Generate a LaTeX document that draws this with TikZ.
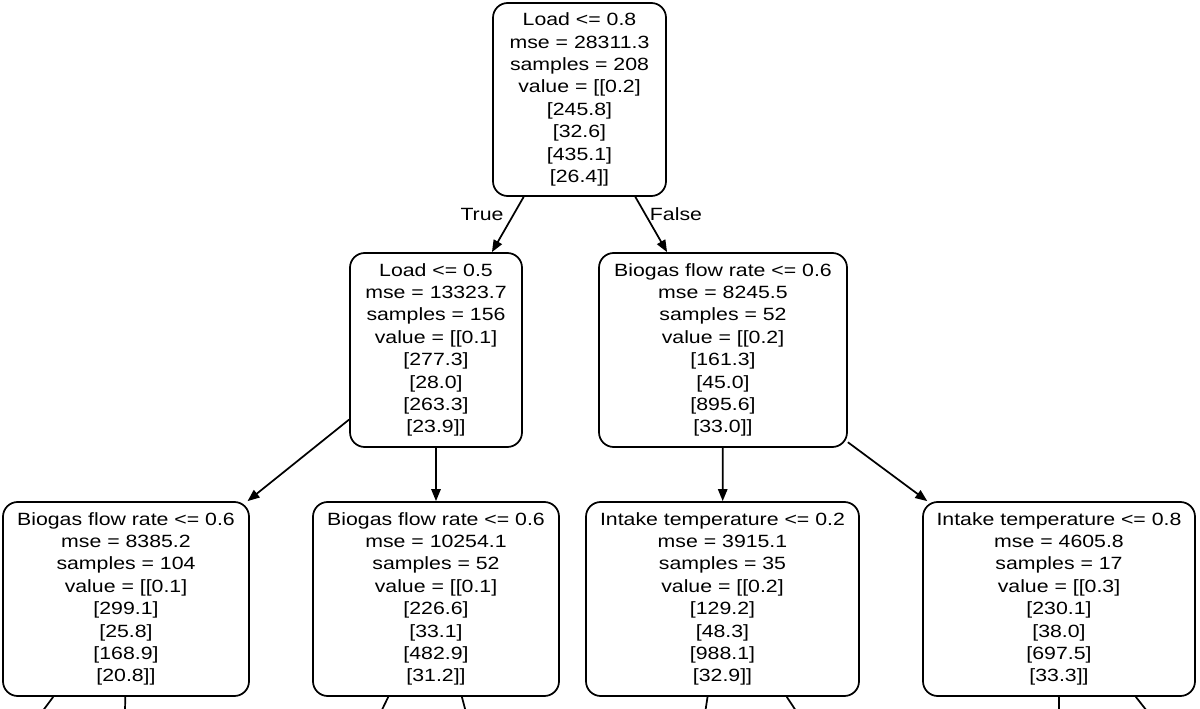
\documentclass[tikz,border=0pt]{standalone}
\usepackage{fontspec}
\setmainfont{Liberation Sans}[FakeStretch=1.2]
\usetikzlibrary{arrows.meta}
\begin{document}
\begin{tikzpicture}[x=0.75pt,y=-0.75pt,
  treebox/.style={draw, line width=1.3pt, rounded corners=11pt, align=center, inner sep=0pt,
    font=\fontsize{13.3pt}{16.8pt}\selectfont, minimum height=145.5pt},
  conn/.style={line width=1.3pt, -{Triangle[length=9pt,width=7pt]}},
  stub/.style={line width=1.3pt},
  lbl/.style={font=\fontsize{13.3pt}{16pt}\selectfont, inner sep=0pt}]
\fill[white] (0,0) rectangle (1200,709);
\clip (0,0) rectangle (1200,709);

\node[treebox, minimum width=129.75pt, minimum height=144.75pt] (root) at (579.5,99.5)
  {Load <= 0.8\\mse = 28311.3\\samples = 208\\value = [[0.2]\\{}[245.8]\\{}[32.6]\\{}[435.1]\\{}[26.4]]};

\node[treebox, minimum width=129pt] (l) at (436,350)
  {Load <= 0.5\\mse = 13323.7\\samples = 156\\value = [[0.1]\\{}[277.3]\\{}[28.0]\\{}[263.3]\\{}[23.9]]};
\node[treebox, minimum width=186pt] (r) at (723,350)
  {Biogas flow rate <= 0.6\\mse = 8245.5\\samples = 52\\value = [[0.2]\\{}[161.3]\\{}[45.0]\\{}[895.6]\\{}[33.0]]};

\node[treebox, minimum width=184.5pt] (ll) at (126,599)
  {Biogas flow rate <= 0.6\\mse = 8385.2\\samples = 104\\value = [[0.1]\\{}[299.1]\\{}[25.8]\\{}[168.9]\\{}[20.8]]};
\node[treebox, minimum width=184.5pt] (lr) at (436,599)
  {Biogas flow rate <= 0.6\\mse = 10254.1\\samples = 52\\value = [[0.1]\\{}[226.6]\\{}[33.1]\\{}[482.9]\\{}[31.2]]};
\node[treebox, minimum width=204.75pt] (rl) at (722.5,599)
  {Intake temperature <= 0.2\\mse = 3915.1\\samples = 35\\value = [[0.2]\\{}[129.2]\\{}[48.3]\\{}[988.1]\\{}[32.9]]};
\node[treebox, minimum width=204pt] (rr) at (1059,599)
  {Intake temperature <= 0.8\\mse = 4605.8\\samples = 17\\value = [[0.3]\\{}[230.1]\\{}[38.0]\\{}[697.5]\\{}[33.3]]};

\draw[conn] (root) -- (l);
\draw[conn] (root) -- (r);
\draw[conn] (l) -- (ll);
\draw[conn] (l) -- (lr);
\draw[conn] (r) -- (rl);
\draw[conn] (r) -- (rr);

\node[lbl] (t) at (482,214) {True};
\node[lbl] (f) at (676,214) {False};

\coordinate (s1) at (36,720);
\coordinate (s2) at (125,720);
\coordinate (s3) at (377,720);
\coordinate (s4) at (468,720);
\coordinate (s5) at (704,720);
\coordinate (s6) at (802,720);
\coordinate (s7) at (1059,720);
\coordinate (s8) at (1154,720);
\draw[stub] (ll) -- (s1);
\draw[stub] (ll) -- (s2);
\draw[stub] (lr) -- (s3);
\draw[stub] (lr) -- (s4);
\draw[stub] (rl) -- (s5);
\draw[stub] (rl) -- (s6);
\draw[stub] (rr) -- (s7);
\draw[stub] (rr) -- (s8);
\end{tikzpicture}
\end{document}
